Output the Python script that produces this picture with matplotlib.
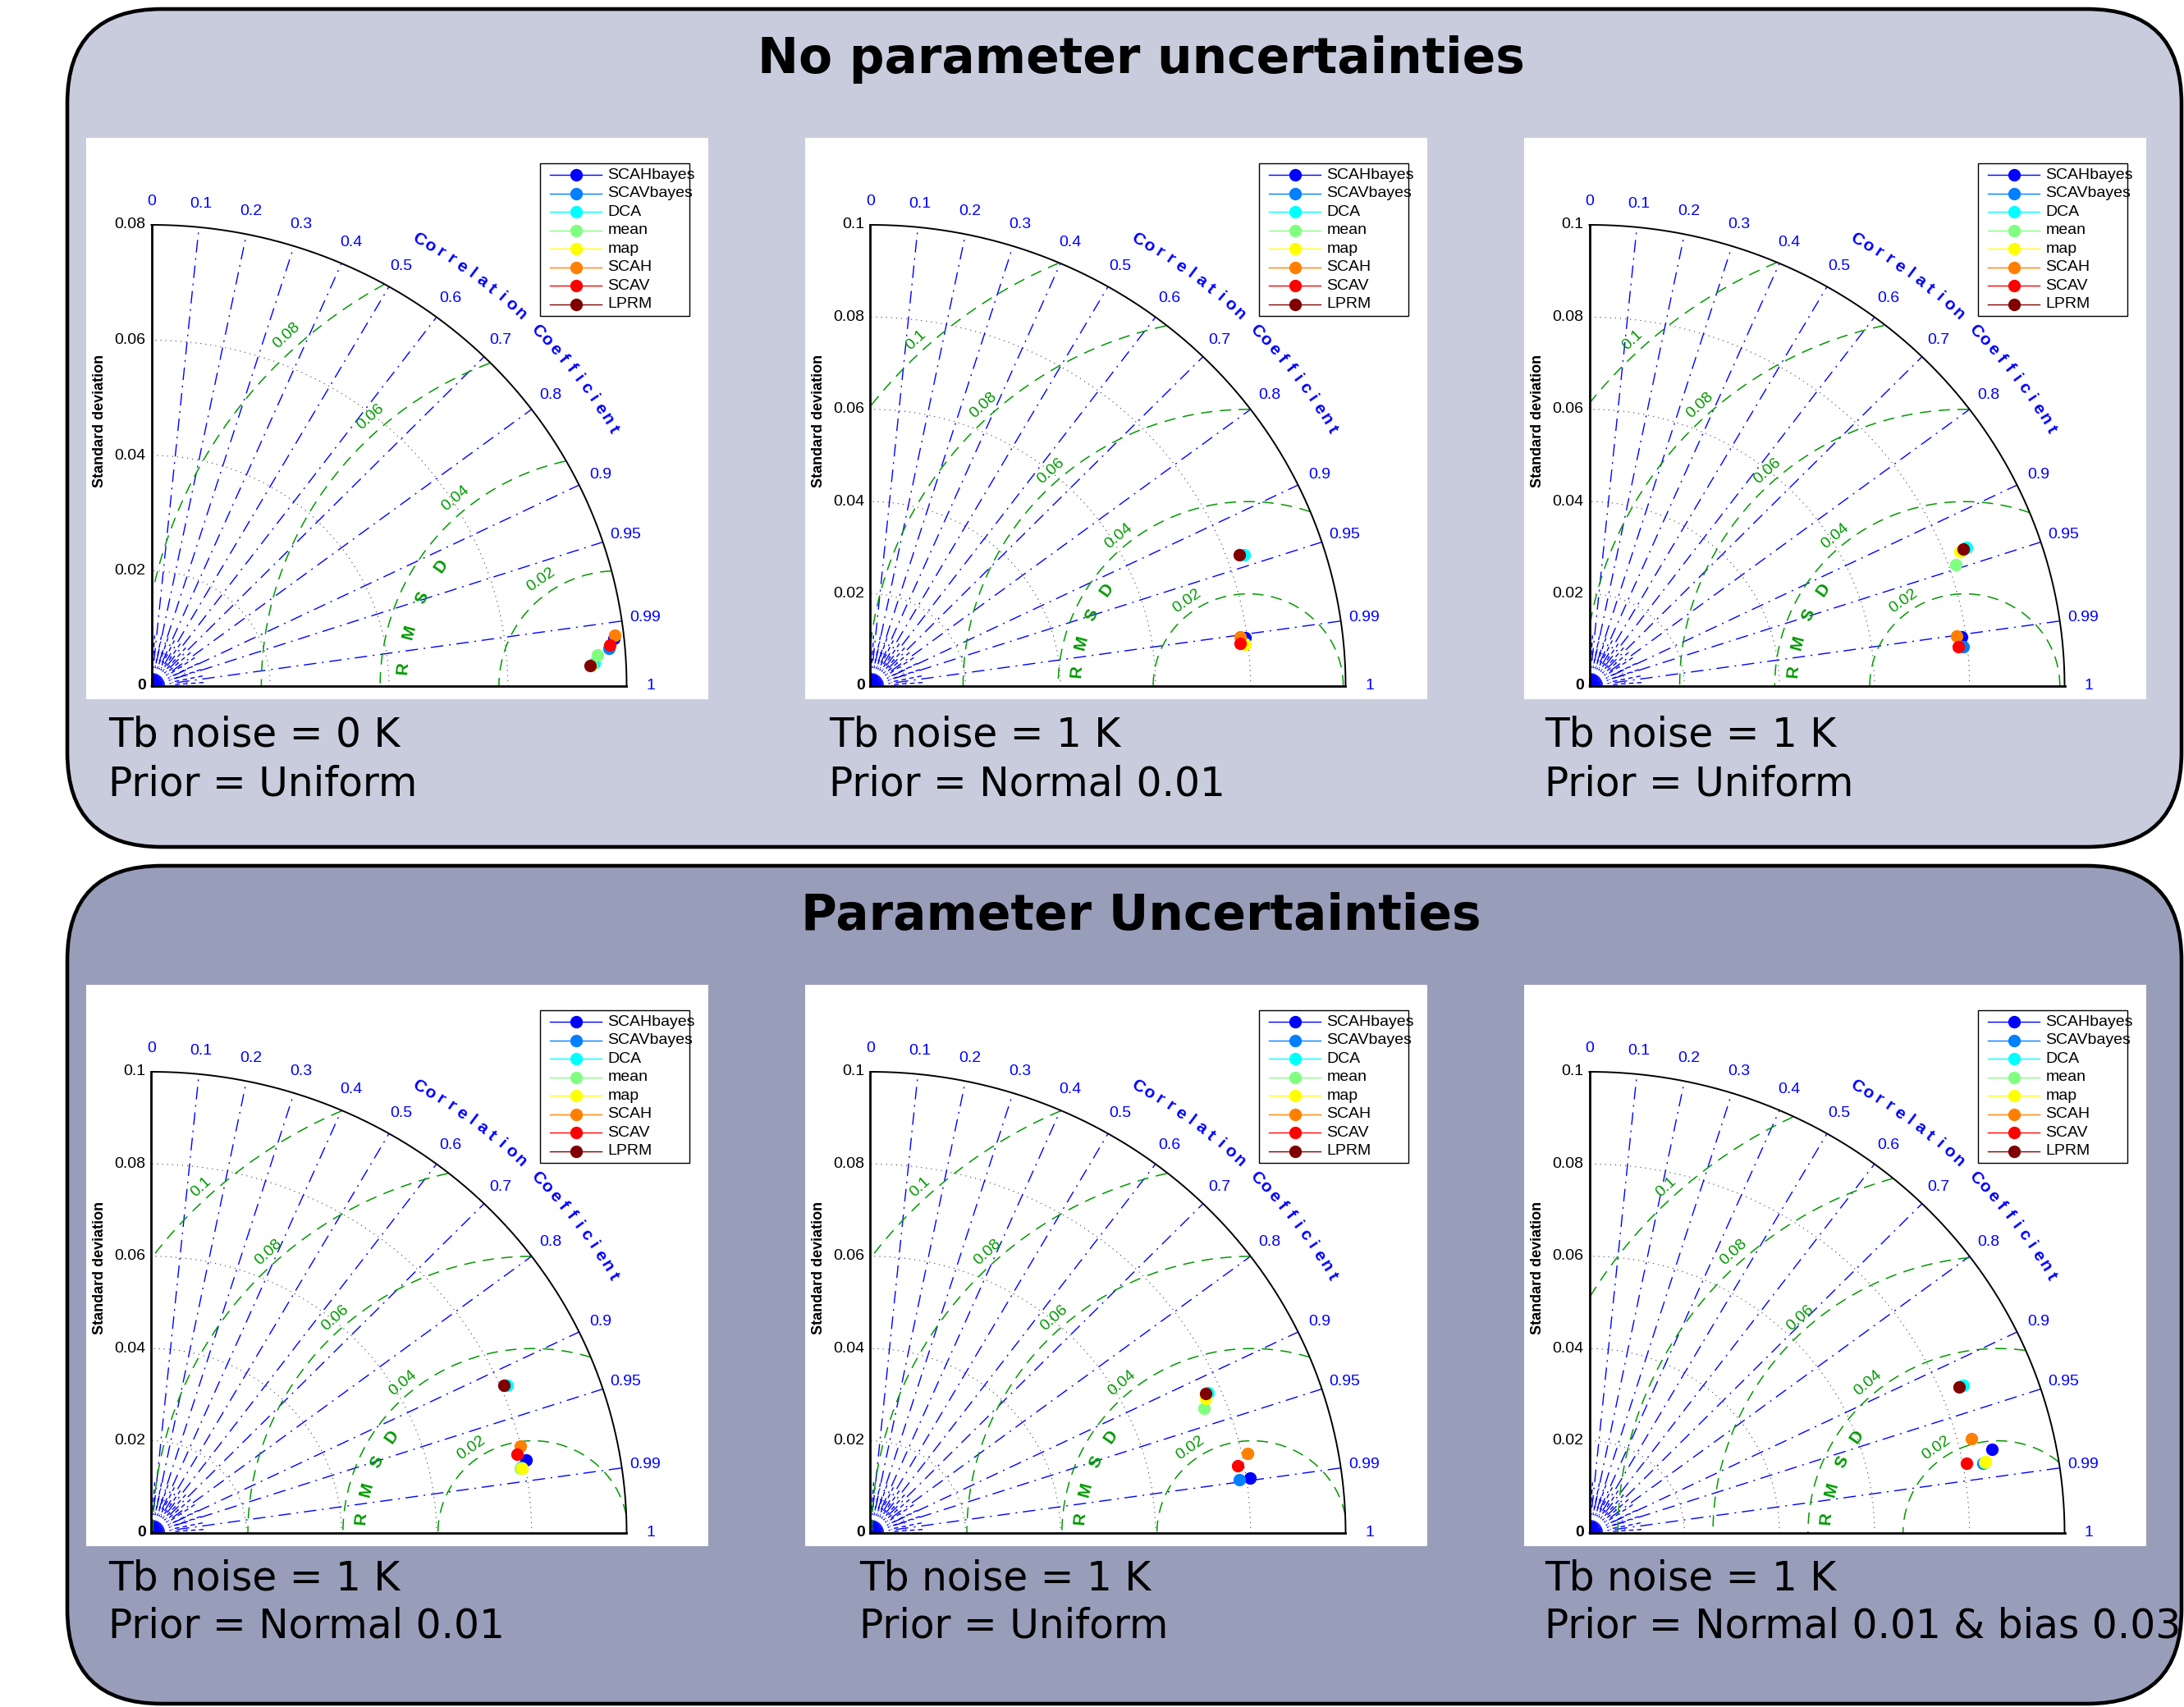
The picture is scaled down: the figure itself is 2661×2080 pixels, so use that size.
import numpy as np
import matplotlib
matplotlib.use('Agg')
import matplotlib.pyplot as plt
from matplotlib.patches import FancyBboxPatch, Rectangle

W, H = 2661, 2080
FONT = 'Liberation Sans'

methods = ['SCAHbayes', 'SCAVbayes', 'DCA', 'mean', 'map', 'SCAH', 'SCAV', 'LPRM']
colors = [(0, 0, 1), (0, .5, 1), (0, 1, 1), (.5, 1, .5),
          (1, 1, 0), (1, .5, 0), (1, 0, 0), (.5, 0, 0)]

# panel order: top row left->right, bottom row left->right
std_max = [0.08, 0.1, 0.1, 0.1, 0.1, 0.1]
ref_std = [0.0785, 0.0795, 0.079, 0.0803, 0.0803, 0.086]

std_p1 = [0.07826, 0.07728, 0.07470, 0.07530, 0.07409, 0.07846, 0.07747, 0.07399]
corr_p1 = [0.9945, 0.9964, 0.9986, 0.9974, 0.9988, 0.9937, 0.9958, 0.9988]
std_p2 = [0.07947, 0.07916, 0.08358, 0.07913, 0.07931, 0.07848, 0.07828, 0.08269]
corr_p2 = [0.9911, 0.9929, 0.9404, 0.9933, 0.9935, 0.9906, 0.9931, 0.9390]
std_p3 = [0.07906, 0.07906, 0.08497, 0.08145, 0.08319, 0.07806, 0.07805, 0.08404]
corr_p3 = [0.9908, 0.9941, 0.9349, 0.9461, 0.9364, 0.9904, 0.9939, 0.9352]
std_p4 = [0.08049, 0.07908, 0.08151, 0.07890, 0.07923, 0.07995, 0.07872, 0.08088]
corr_p4 = [0.9803, 0.9838, 0.9192, 0.9839, 0.9841, 0.9720, 0.9764, 0.9179]
std_p5 = [0.08074, 0.07852, 0.07733, 0.07528, 0.07633, 0.08122, 0.07858, 0.07670]
corr_p5 = [0.9891, 0.9890, 0.9196, 0.9333, 0.9239, 0.9770, 0.9828, 0.9194]
std_p6 = [0.08664, 0.08421, 0.08505, 0.08450, 0.08468, 0.08304, 0.08086, 0.08396]
corr_p6 = [0.9776, 0.9838, 0.9260, 0.9835, 0.9832, 0.9690, 0.9824, 0.9259]
all_std = [std_p1, std_p2, std_p3, std_p4, std_p5, std_p6]
all_corr = [corr_p1, corr_p2, corr_p3, corr_p4, corr_p5, corr_p6]

noise_txt = ['Tb noise = 0 K', 'Tb noise = 1 K', 'Tb noise = 1 K',
             'Tb noise = 1 K', 'Tb noise = 1 K', 'Tb noise = 1 K']
prior_txt = ['Prior = Uniform', 'Prior = Normal 0.01', 'Prior = Uniform',
             'Prior = Normal 0.01', 'Prior = Uniform', 'Prior = Normal 0.01 & bias 0.03']
titles = ['No parameter uncertainties', 'Parameter Uncertainties']

corr_ticks = [0.1, 0.2, 0.3, 0.4, 0.5, 0.6, 0.7, 0.8, 0.9, 0.95, 0.99]
corr_labels = ['0', '0.1', '0.2', '0.3', '0.4', '0.5', '0.6', '0.7', '0.8', '0.9', '0.95', '0.99', '1']

GREEN = (0, 0.6, 0)

# panel geometry in pixels
pan_left = [105, 981, 1857]
pan_top = [168, 1200]
PW, PH = 758, 684
OX, OY = 79.5, 16      # origin offset inside panel
RX, RY = 579, 562      # pixels for radius R


def taylor(ax, R, ref, stds, corrs):
    ax.set_xlim(-OX / RX * R, (PW - OX) / RX * R)
    ax.set_ylim(-OY / RY * R, (PH - OY) / RY * R)

    t = np.linspace(0, np.pi / 2, 400)
    ticks = np.arange(0.02, R + 1e-9, 0.02)

    # std dotted circles
    for s in ticks[:-1] if abs(ticks[-1] - R) < 1e-9 else ticks:
        ax.plot(s * np.cos(t), s * np.sin(t), color='0.25', lw=0.8, dashes=(1, 4.5))

    # small fan at origin
    for a in np.radians(np.linspace(0, 90, 22)):
        ax.plot([0, 0.028 * R * np.cos(a)], [0, 0.028 * R * np.sin(a)], '-', color='b', lw=0.7)
    for rr in [0.045 * R, 0.075 * R]:
        ax.plot(rr * np.cos(t), rr * np.sin(t), color='b', lw=0.8, dashes=(1, 2.5))
    for a in np.radians(np.arange(4, 90, 7.5)):
        ax.plot([0.05 * R * np.cos(a), 0.11 * R * np.cos(a)],
                [0.05 * R * np.sin(a), 0.11 * R * np.sin(a)], color='b', lw=1.0,
                dashes=(4, 3))

    # correlation lines
    for c in corr_ticks:
        a = np.arccos(c)
        ax.plot([0, R * np.cos(a)], [0, R * np.sin(a)], color='b', lw=1.0,
                dashes=(11, 5, 1.5, 5))

    # RMS circles
    tt = np.linspace(0, np.pi, 800)
    for r in ticks:
        x = ref + r * np.cos(tt)
        y = r * np.sin(tt)
        out = (x < 0) | (x ** 2 + y ** 2 > R ** 2)
        x = np.where(out, np.nan, x)
        ax.plot(x, y, color=GREEN, lw=1.1, dashes=(9, 6))
        th = np.radians(135 - 0.2 / r)
        lx = ref + (r + 0.0025) * np.cos(th)
        ly = (r + 0.0025) * np.sin(th)
        if lx > 0 and np.hypot(lx, ly) < R:
            ax.text(lx, ly, '%g' % r, color=GREEN, fontsize=14, family=FONT,
                    rotation=np.degrees(th) - 90, ha='center', va='center',
                    rotation_mode='anchor')
    for ch, ang in zip('RMSD', [175, 165, 155, 145]):
        a = np.radians(ang)
        ax.text(ref + 0.0363 * np.cos(a), 0.0363 * np.sin(a), ch, color=GREEN,
                fontsize=15, fontweight='bold', family=FONT, rotation=ang - 90,
                ha='center', va='center', rotation_mode='anchor')

    # frame
    ax.plot(R * np.cos(t), R * np.sin(t), '-', color='k', lw=1.4)
    ax.plot([0, 0], [0, R], '-', color='k', lw=2)
    ax.plot([0, R], [0, 0], '-', color='k', lw=2)

    # std tick labels
    ax.text(-0.012 * R, 0, '0', ha='right', va='center', fontsize=14,
            fontweight='bold', family=FONT)
    for s in ticks:
        ax.text(-0.012 * R, s, '%g' % s, ha='right', va='center', fontsize=14, family=FONT)
    ax.text(-0.108 * R, 0.575 * R, 'Standard deviation', rotation=90, ha='center',
            va='center', fontsize=13, fontweight='bold', family=FONT)

    # correlation labels
    for c, lab in zip([0] + corr_ticks + [1], corr_labels):
        a = np.arccos(c)
        ax.text(1.05 * R * np.cos(a), 1.05 * R * np.sin(a), lab, color='b',
                fontsize=14, family=FONT, ha='center', va='center')
    word = 'Correlation Coefficient'
    for i, ch in enumerate(word):
        if ch == ' ':
            continue
        ang = 59.8 - i * 1.364
        a = np.radians(ang)
        ax.text(1.12 * R * np.cos(a), 1.12 * R * np.sin(a), ch, color='b',
                fontsize=15, fontweight='bold', family=FONT, rotation=ang - 90,
                ha='center', va='center', rotation_mode='anchor')

    # points
    for s, c, col in zip(stds, corrs, colors):
        a = np.arccos(c)
        ax.plot(s * np.cos(a), s * np.sin(a), 'o', color=col, markersize=10,
                markeredgecolor=col, zorder=10)

    # legend
    ax.add_patch(Rectangle((0.730, 0.683), 0.240, 0.272, transform=ax.transAxes,
                           facecolor='white', edgecolor='k', lw=1, zorder=11))
    for i, (m, col) in enumerate(zip(methods, colors)):
        yy = 0.9336 - i * 0.0329
        ax.plot([0.746, 0.828], [yy, yy], '-', color=col, lw=1, transform=ax.transAxes,
                zorder=12, clip_on=False)
        ax.plot(0.788, yy, 'o', color=col, markersize=10, transform=ax.transAxes,
                zorder=12, clip_on=False)
        ax.text(0.838, yy, m, fontsize=14, family=FONT, va='center', ha='left',
                transform=ax.transAxes, zorder=12)


fig = plt.figure(figsize=(W / 100, H / 100), dpi=100)
bg = fig.add_axes([0, 0, 1, 1])
bg.set_xlim(0, W)
bg.set_ylim(H, 0)
bg.axis('off')

box_colors = ['#c8ccdc', '#989db9']
box_tops = [11, 1055]
for bt, bc, title in zip(box_tops, box_colors, titles):
    bg.add_patch(FancyBboxPatch((82, bt), 2576, 1021,
                                boxstyle='round,pad=0,rounding_size=115',
                                facecolor=bc, edgecolor='k', lw=3.3))
    bg.text(1390, bt + 62, title, ha='center', va='center', fontsize=43,
            fontweight='bold', family='DejaVu Sans')

cap_x = [[132, 1010, 1882], [132, 1047, 1882]]
cap_y = [(896, 955), (1923, 1981)]

for k in range(6):
    row, col = divmod(k, 3)
    left, top = pan_left[col], pan_top[row]
    ax = fig.add_axes([left / W, 1 - (top + PH) / H, PW / W, PH / H])
    ax.set_facecolor('white')
    taylor(ax, std_max[k], ref_std[k], all_std[k], all_corr[k])
    for sp in ax.spines.values():
        sp.set_visible(False)
    ax.set_xticks([])
    ax.set_yticks([])
    bg.text(cap_x[row][col], cap_y[row][0], noise_txt[k], fontsize=35,
            family='DejaVu Sans', va='center', ha='left')
    bg.text(cap_x[row][col], cap_y[row][1], prior_txt[k], fontsize=35,
            family='DejaVu Sans', va='center', ha='left')

fig.savefig('out.png', dpi=100)
